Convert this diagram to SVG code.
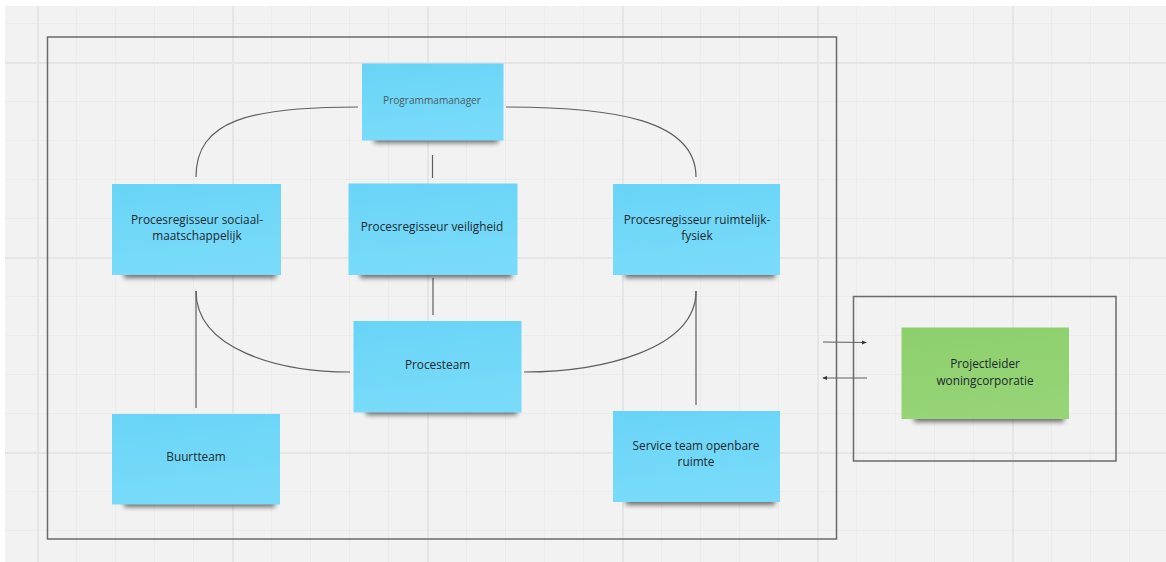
<svg xmlns="http://www.w3.org/2000/svg" width="1166" height="562" viewBox="0 0 1166 562">
  <defs>
    <pattern id="grid" patternUnits="userSpaceOnUse" x="37" y="62" width="195" height="195">
      <rect x="0" y="0" width="195" height="195" fill="#f2f2f2"/>
      <rect x="39" y="0" width="1" height="195" fill="#ebebeb"/>
      <rect x="78" y="0" width="1" height="195" fill="#ebebeb"/>
      <rect x="117" y="0" width="1" height="195" fill="#ebebeb"/>
      <rect x="156" y="0" width="1" height="195" fill="#ebebeb"/>
      <rect x="0" y="39" width="195" height="1" fill="#ebebeb"/>
      <rect x="0" y="78" width="195" height="1" fill="#ebebeb"/>
      <rect x="0" y="117" width="195" height="1" fill="#ebebeb"/>
      <rect x="0" y="156" width="195" height="1" fill="#ebebeb"/>
      <rect x="0" y="0" width="2" height="195" fill="#e5e5e5"/>
      <rect x="0" y="0" width="195" height="2" fill="#e5e5e5"/>
    </pattern>
    <linearGradient id="blue" x1="0" y1="0" x2="0.2" y2="1">
      <stop offset="0" stop-color="#69d4f7"/>
      <stop offset="1" stop-color="#79dbf9"/>
    </linearGradient>
    <linearGradient id="green" x1="0" y1="0" x2="0.2" y2="1">
      <stop offset="0" stop-color="#8dcf6c"/>
      <stop offset="1" stop-color="#96d477"/>
    </linearGradient>
    <filter id="blur" x="-20%" y="-100%" width="140%" height="300%">
      <feGaussianBlur stdDeviation="2.5"/>
    </filter>
    <marker id="arrow" viewBox="0 0 6 6" refX="5" refY="3" markerWidth="5" markerHeight="5" orient="auto" markerUnits="userSpaceOnUse">
      <path d="M0,0.5 L6,3 L0,5.5 Z" fill="#333"/>
    </marker>
    <style>
      .frame { fill: none; stroke: #6a6a6a; stroke-width: 1.5; }
      .conn { fill: none; stroke: #5e5e5e; stroke-width: 1.2; }
      .shadow { fill: #000; opacity: 0.55; filter: url(#blur); }
      .note { fill: url(#blue); }
      .gnote { fill: url(#green); }
      .lbl { font-family: "Open Sans", "Noto Sans", sans-serif; font-size: 11.8px; fill: #1c282d; text-anchor: middle; }
      .small { font-size: 10.1px; fill: #4b5a60; }
    </style>
  </defs>

  <rect x="0" y="0" width="1166" height="562" fill="#ffffff"/>
  <rect x="5" y="6" width="1161" height="556" fill="url(#grid)"/>

  <g id="frames">
    <rect class="frame" x="47.5" y="37" width="789" height="502"/>
    <rect class="frame" x="853.5" y="296.5" width="262.5" height="164.5"/>
  </g>

  <g id="connectors">
    <path class="conn" d="M358,107 C250,107 196,120 196,177"/>
    <path class="conn" d="M506,107 C614,107 696,120 696,177"/>
    <path class="conn" d="M432.5,155 L432.5,178"/>
    <path class="conn" d="M433,278 L433,315"/>
    <path class="conn" d="M196,291 L196,408"/>
    <path class="conn" d="M196,291 C196,350 280,372 350,372"/>
    <path class="conn" d="M696,291 L696,405"/>
    <path class="conn" d="M696,291 C696,350 600,372 524,372"/>
    <path class="conn" d="M823,342 L866,342.5" marker-end="url(#arrow)"/>
    <path class="conn" d="M867,378 L823,378" marker-end="url(#arrow)"/>
  </g>

  <g id="programmamanager">
    <rect class="shadow" x="374" y="133" width="124" height="10"/>
    <rect class="note" x="362" y="63.5" width="141.5" height="77"/>
    <text class="lbl small" x="432" y="104">Programmamanager</text>
  </g>

  <g id="procesregisseur-sociaal">
    <rect class="shadow" x="124" y="267" width="152" height="11"/>
    <rect class="note" x="112" y="184" width="169" height="91"/>
    <text class="lbl" x="197" y="223.5">Procesregisseur sociaal-</text>
    <text class="lbl" x="197" y="240">maatschappelijk</text>
  </g>

  <g id="procesregisseur-veiligheid">
    <rect class="shadow" x="360" y="267" width="152" height="11"/>
    <rect class="note" x="348.5" y="183.5" width="169" height="91.5"/>
    <text class="lbl" x="432" y="231">Procesregisseur veiligheid</text>
  </g>

  <g id="procesregisseur-ruimtelijk">
    <rect class="shadow" x="625" y="267" width="150" height="11"/>
    <rect class="note" x="613" y="184" width="167" height="91"/>
    <text class="lbl" x="697" y="224">Procesregisseur ruimtelijk-</text>
    <text class="lbl" x="697" y="239.5">fysiek</text>
  </g>

  <g id="procesteam">
    <rect class="shadow" x="366" y="404" width="151" height="11"/>
    <rect class="note" x="353.5" y="321" width="168" height="91.5"/>
    <text class="lbl" x="437.5" y="369">Procesteam</text>
  </g>

  <g id="buurtteam">
    <rect class="shadow" x="124" y="496" width="151" height="11"/>
    <rect class="note" x="112" y="414" width="168" height="90.5"/>
    <text class="lbl" x="196" y="461">Buurtteam</text>
  </g>

  <g id="service-team">
    <rect class="shadow" x="626" y="494" width="149" height="11"/>
    <rect class="note" x="613" y="411" width="167" height="91"/>
    <text class="lbl" x="696" y="450">Service team openbare</text>
    <text class="lbl" x="696" y="466">ruimte</text>
  </g>

  <g id="projectleider">
    <rect class="shadow" x="914" y="411" width="150" height="11"/>
    <rect class="gnote" x="901.5" y="327.5" width="167.5" height="91.5"/>
    <text class="lbl" x="985" y="367.5">Projectleider</text>
    <text class="lbl" x="985" y="384.5">woningcorporatie</text>
  </g>
</svg>
